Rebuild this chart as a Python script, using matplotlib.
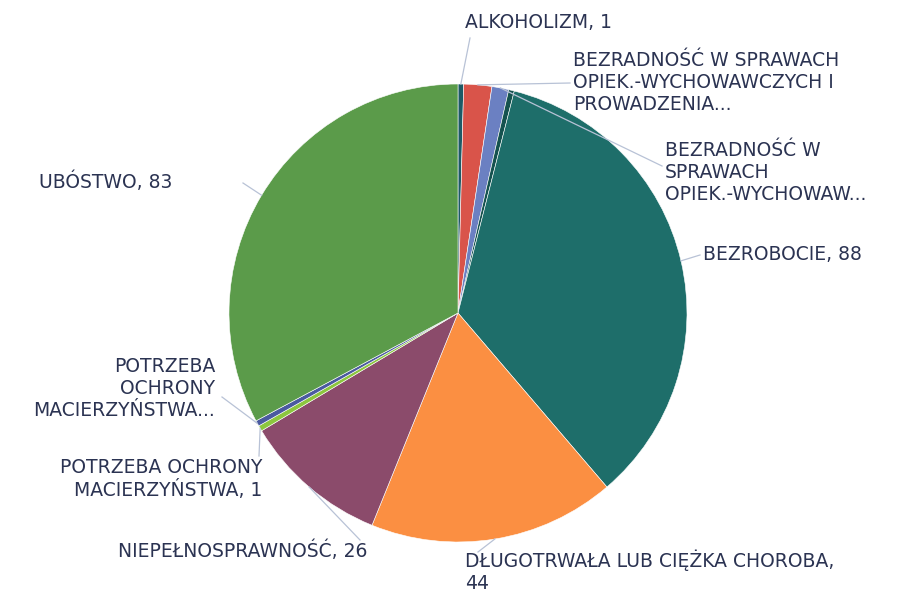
import matplotlib
matplotlib.use("Agg")
import matplotlib.pyplot as plt
import numpy as np

labels = [
    "ALKOHOLIZM, 1",
    "BEZRADNOŚĆ W SPRAWACH\nOPIEK.-WYCHOWAWCZYCH I\nPROWADZENIA...",
    "BEZRADNOŚĆ W\nSPRAWACH\nOPIEK.-WYCHOWAW...",
    "",
    "BEZROBOCIE, 88",
    "DŁUGOTRWAŁA LUB CIĘŻKA CHOROBA,\n44",
    "NIEPEŁNOSPRAWNOŚĆ, 26",
    "POTRZEBA OCHRONY\nMACIERZYŃSTWA, 1",
    "POTRZEBA\nOCHRONY\nMACIERZYŃSTWA...",
    "UBÓSTWO, 83",
]
values = [1, 5, 3, 1, 88, 44, 26, 1, 1, 83]
colors = ["#1d5a66", "#d9544a", "#6b80c2", "#15524f", "#1e6e6a",
          "#fb8f42", "#8b4b6b", "#8cc63e", "#4a5aa0", "#5b9b4a"]

W, H = 899, 596
fig = plt.figure(figsize=(W / 100, H / 100), dpi=100)
ax = fig.add_axes([0, 0, 1, 1])
ax.set_xlim(0, W)
ax.set_ylim(0, H)
ax.set_aspect("equal")
ax.axis("off")

cx, cy, R = 458, H - 313, 229
wedges, _ = ax.pie(values, colors=colors, startangle=90, counterclock=False,
                   center=(cx, cy), radius=R,
                   wedgeprops=dict(linewidth=0.4, edgecolor="white"))
ax.set_xlim(0, W)
ax.set_ylim(0, H)

txt_color = "#2b3352"
line_color = "#b8c2d6"
fs = 13.5

# label layout: (text x, text y (top-down px)), ha, leader start (top-down px)
layout = {
    0: ((465, 22), "left", (470, 38)),
    1: ((573, 83), "left", (570, 83)),
    2: ((665, 173), "left", (662, 166)),
    4: ((703, 255), "left", (700, 255)),
    5: ((465, 571), "left", (478, 552)),
    6: ((367, 551), "right", (360, 540)),
    7: ((262, 479), "right", (259, 456)),
    8: ((215, 389), "right", (222, 397)),
    9: ((172, 182), "right", (243, 183)),
}

cum = np.cumsum([0] + values)
total = cum[-1]
for i, ((tx, ty), ha, (lx, ly)) in layout.items():
    ang = 90 - 360 * (cum[i] + values[i] / 2) / total
    a = np.deg2rad(ang)
    px, py = cx + R * np.cos(a), cy + R * np.sin(a)
    ax.plot([lx, px], [H - ly, py], color=line_color, lw=0.9, zorder=3)
    ax.text(tx, H - ty, labels[i], ha=ha, va="center", fontsize=fs,
            color=txt_color, family="DejaVu Sans", linespacing=1.2,
            multialignment=ha)

fig.savefig("out.png", dpi=100)
